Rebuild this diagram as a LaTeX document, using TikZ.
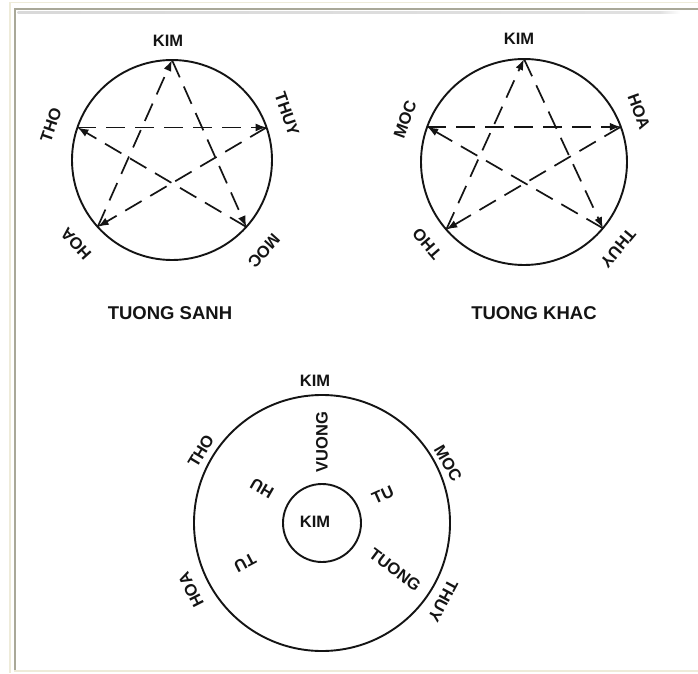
\documentclass[tikz,border=0pt]{standalone}
\usepackage{fontspec}
\setmainfont{Liberation Sans}
\usetikzlibrary{arrows.meta}
\definecolor{frameBeige}{HTML}{EEEBD9}
\definecolor{frameGray}{HTML}{A9A898}
\definecolor{inkc}{HTML}{141414}
\tikzset{
  ring/.style={line width=1.9pt, draw=inkc},
  starline/.style={line width=1.7pt, draw=inkc, dash pattern=on 19pt off 10pt, -{Latex[length=11pt,width=8pt]}},
  lab/.style={font=\bfseries\fontsize{16.5}{16.5}\selectfont, inner sep=0pt, text=inkc},
  caption/.style={font=\bfseries\fontsize{18.5}{18.5}\selectfont, inner sep=0pt, text=inkc},
}
\begin{document}
\begin{tikzpicture}[x=1pt,y=1pt]
\useasboundingbox (0,0) rectangle (698,673);
\fill[white] (0,0) rectangle (698,673);
% frame
\fill[frameBeige] (9,0) rectangle (11,671.3);
\fill[frameBeige] (9,669.7) rectangle (698,671.3);
\fill[frameBeige] (14,0.7) rectangle (698,3.3);
\fill[frameGray] (13.7,3.3) rectangle (15.7,665);
\fill[frameGray] (13.7,663.3) rectangle (698,665);
\shade[left color=black!15, right color=black!12] (17.7,659.7) rectangle (660,661);
\shade[left color=black!12, right color=white] (660,659.7) rectangle (680,661);

% ---------- TUONG SANH ----------
\begin{scope}[shift={(172,513)}]
\draw[ring] (0,0) circle (100);
\coordinate (s-kim) at (90:100);
\coordinate (s-thuy) at (19:100);
\coordinate (s-moc) at (-42:100);
\coordinate (s-hoa) at (-138:100);
\coordinate (s-tho) at (161:100);
\draw[starline] (s-hoa) -- (s-kim);
\draw[starline] (s-kim) -- (s-moc);
\draw[starline] (s-tho) -- (s-thuy);
\draw[starline] (s-thuy) -- (s-hoa);
\draw[starline] (s-moc) -- (s-tho);
\node[lab] (s-lkim) at (-4,119) {KIM};
\node[lab, rotate=-71] (s-lthuy) at (115,46) {THUY};
\node[lab, rotate=-132] (s-lmoc) at (92,-91) {MOC};
\node[lab, rotate=132] (s-lhoa) at (-96,-84) {HOA};
\node[lab, rotate=71] (s-ltho) at (-121,35) {THO};
\end{scope}
\node[caption] (cap1) at (170,360) {TUONG SANH};

% ---------- TUONG KHAC ----------
\begin{scope}[shift={(524,511)}]
\draw[ring] (0,0) circle (103);
\coordinate (k-kim) at (90:103);
\coordinate (k-hoa) at (20:103);
\coordinate (k-thuy) at (-40:103);
\coordinate (k-tho) at (-139:103);
\coordinate (k-moc) at (160:103);
\draw[starline] (k-tho) -- (k-kim);
\draw[starline] (k-kim) -- (k-thuy);
\draw[starline] (k-moc) -- (k-hoa);
\draw[starline] (k-hoa) -- (k-tho);
\draw[starline] (k-thuy) -- (k-moc);
\node[lab] (k-lkim) at (-5,123) {KIM};
\node[lab, rotate=70] (k-lmoc) at (-119,43) {MOC};
\node[lab, rotate=-70] (k-lhoa) at (115,50) {HOA};
\node[lab, rotate=131] (k-ltho) at (-97,-82) {THO};
\node[lab, rotate=-130] (k-lthuy) at (94,-86) {THUY};
\end{scope}
\node[caption] (cap2) at (534,360) {TUONG KHAC};

% ---------- third diagram ----------
\begin{scope}[shift={(322,150)}]
\draw[ring] (0,0) circle (128);
\draw[ring] (0,0) circle (39);
\node[lab] (c-kim) at (-7,142) {KIM};
\node[lab, rotate=59] (c-tho) at (-121,72) {THO};
\node[lab, rotate=-60] (c-moc) at (126,60) {MOC};
\node[lab, rotate=117] (c-hoa) at (-131,-67) {HOA};
\node[lab, rotate=-118] (c-thuy) at (121,-78) {THUY};
\node[lab] (c-center) at (-7,1) {KIM};
\node[lab, rotate=90] (c-vuong) at (0,81) {VUONG};
\node[lab, rotate=150] (c-hu) at (-60,35) {HU};
\node[lab, rotate=24] (c-tu1) at (61,28) {TU};
\node[lab, rotate=-37] (c-tuong) at (73,-47) {TUONG};
\node[lab, rotate=-152] (c-tu2) at (-77,-40) {TU};
\end{scope}
\end{tikzpicture}
\end{document}
